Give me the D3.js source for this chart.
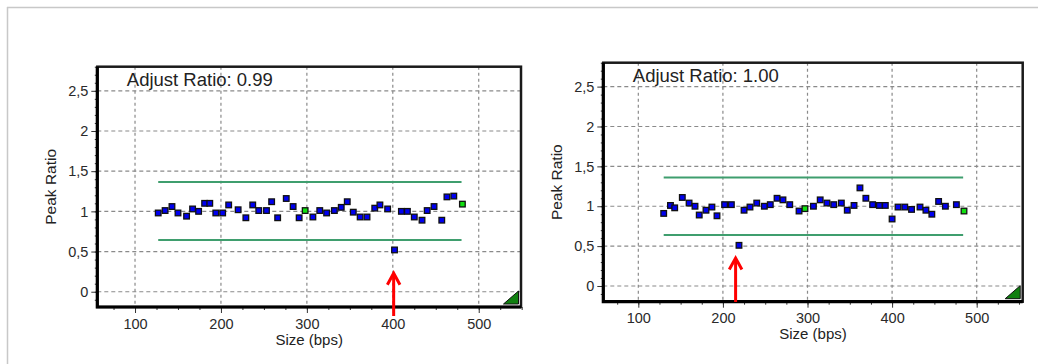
<!DOCTYPE html>
<html><head><meta charset="utf-8">
<script src="https://cdn.jsdelivr.net/npm/d3@7"></script>
<style>
html,body{margin:0;padding:0;background:#fff;}
svg{display:block;font-family:"Liberation Sans",Arial,sans-serif;}
</style></head>
<body>
<svg id="c" width="1038" height="364"></svg>
<script>
// ---------- data ----------
const xTicks = [100, 200, 300, 400, 500];
const yTicks = [0, 0.5, 1, 1.5, 2, 2.5];
const yTickLabels = ["0", "0,5", "1", "1,5", "2", "2,5"];
const xTitle = "Size (bps)";
const yTitle = "Peak Ratio";

// left panel
const titleA = "Adjust Ratio: 0.99";
const sizesA = [127,135,143,150,160,167,174,181,187,194,202,209,220,229,237,244,253,259,266,276,284,291,
                307,315,323,332,340,347,354,362,370,379,385,394,402,410,417,425,434,440,448,457,463,471];
const ratiosA = [0.98,1.01,1.06,0.98,0.94,1.03,1.00,1.10,1.10,0.98,0.98,1.08,1.02,0.92,1.08,1.01,1.01,1.12,0.92,1.16,1.06,0.92,
                 0.93,1.01,0.98,1.01,1.05,1.12,0.99,0.93,0.93,1.04,1.08,1.03,0.52,1.00,1.00,0.93,0.89,1.01,1.06,0.89,1.18,1.19];
const refSizesA = [298, 481];
const refRatiosA = [1.01, 1.09];
const limitSpanA = [127, 480];
const limitsA = [0.645, 1.365];
const arrowSizeA = 401;

// right panel
const titleB = "Adjust Ratio: 1.00";
const sizesB = [130,138,143,152,160,167,172,180,187,193,202,210,219,225,232,240,249,256,264,271,279,290,
                307,315,323,331,340,347,355,362,369,377,385,392,400,407,415,423,433,440,447,455,463,476];
const ratiosB = [0.91,1.01,0.98,1.11,1.04,1.00,0.89,0.95,0.99,0.88,1.02,1.02,0.51,0.95,0.99,1.04,1.00,1.02,1.10,1.08,1.02,0.94,
                 1.00,1.08,1.04,1.02,1.04,0.95,1.01,1.23,1.10,1.02,1.01,1.01,0.84,0.99,0.99,0.96,0.99,0.95,0.90,1.06,1.00,1.02];
const refSizesB = [297, 485];
const refRatiosB = [0.97, 0.94];
const limitSpanB = [130, 484];
const limitsB = [0.64, 1.36];
const arrowSizeB = 215;

// ---------- drawing ----------
const svg = d3.select("#c");

// outer light frame
svg.append("line").attr("x1",7).attr("y1",7.5).attr("x2",1038).attr("y2",7.5).attr("stroke","#c8c8c8").attr("stroke-width",1.5);
svg.append("line").attr("x1",7.5).attr("y1",7).attr("x2",7.5).attr("y2",364).attr("stroke","#c8c8c8").attr("stroke-width",1.5);

function panel(o) {
  const x = d3.scaleLinear().domain(o.xDom).range([o.left, o.right]);
  const y = d3.scaleLinear().domain(o.yDom).range([o.bottom, o.top]);
  const g = svg.append("g");

  // gridlines
  g.append("g").selectAll("line").data(yTicks).join("line")
    .attr("x1", o.left).attr("x2", o.right)
    .attr("y1", d => y(d)).attr("y2", d => y(d))
    .attr("stroke", "#8a8a8a").attr("stroke-width", 1.2).attr("stroke-dasharray", "4,3");
  g.append("g").selectAll("line").data(xTicks).join("line")
    .attr("x1", d => x(d)).attr("x2", d => x(d))
    .attr("y1", o.top).attr("y2", o.bottom)
    .attr("stroke", "#8a8a8a").attr("stroke-width", 1.2).attr("stroke-dasharray", "3,3");

  // limit lines
  g.append("g").selectAll("line").data(o.limits).join("line")
    .attr("x1", x(o.span[0])).attr("x2", x(o.span[1]))
    .attr("y1", d => y(d)).attr("y2", d => y(d))
    .attr("stroke", "#3f9e6e").attr("stroke-width", 2);

  // points
  const s = 5.6;
  g.append("g").selectAll("rect").data(o.sizes.map((v,i)=>[v,o.ratios[i]])).join("rect")
    .attr("x", d => x(d[0]) - s/2).attr("y", d => y(d[1]) - s/2)
    .attr("width", s).attr("height", s)
    .attr("fill", "#0000f0").attr("stroke", "#111").attr("stroke-width", 1.3);
  g.append("g").selectAll("rect").data(o.refSizes.map((v,i)=>[v,o.refRatios[i]])).join("rect")
    .attr("x", d => x(d[0]) - s/2).attr("y", d => y(d[1]) - s/2)
    .attr("width", s).attr("height", s)
    .attr("fill", "#10e010").attr("stroke", "#111").attr("stroke-width", 1.3);

  // axis ticks (minor + major) using d3 axes
  const yMinor = d3.range(-1, 29).map(d => d / 10);
  const yAx = d3.axisLeft(y).tickValues(yMinor).tickSize(2.5).tickFormat("");
  const gy = g.append("g").attr("transform", `translate(${o.left},0)`).call(yAx);
  const yMaj = d3.axisLeft(y).tickValues(yTicks).tickSize(6).tickPadding(3)
    .tickFormat((d,i) => yTickLabels[i]);
  const gy2 = g.append("g").attr("transform", `translate(${o.left},0)`).call(yMaj);
  const xMinor = d3.range(75, 551, 25);
  const xAx = d3.axisBottom(x).tickValues(xMinor).tickSize(3).tickFormat("");
  const gx = g.append("g").attr("transform", `translate(0,${o.bottom})`).call(xAx);
  const xMaj = d3.axisBottom(x).tickValues(xTicks).tickSize(6).tickPadding(o.xPad).tickFormat(d3.format("d"));
  const gx2 = g.append("g").attr("transform", `translate(0,${o.bottom})`).call(xMaj);
  [gy, gy2, gx, gx2].forEach(a => {
    a.select(".domain").remove();
    a.selectAll("line").attr("stroke", "#333").attr("stroke-width", 1);
    a.selectAll("text").attr("fill", "#2a2a2a").attr("font-size", 14.5).attr("font-family", "Liberation Sans, Arial, sans-serif");
  });

  // frame
  g.append("rect").attr("x", o.left).attr("y", o.top)
    .attr("width", o.right - o.left).attr("height", o.bottom - o.top)
    .attr("fill", "none").attr("stroke", "#1a1a1a").attr("stroke-width", 2.5);
  g.append("path").attr("d", `M${o.left},${o.top}V${o.bottom}H${o.right}`)
    .attr("fill", "none").attr("stroke", "#000").attr("stroke-width", 3.2);

  // corner triangle
  const tr = o.right - 2.5, tb = o.bottom - 3;
  g.append("path").attr("d", `M${tr-15},${tb}L${tr},${tb}L${tr},${tb-13}Z`)
    .attr("fill", "#108010").attr("stroke", "#111").attr("stroke-width", 1);

  // titles
  g.append("text").attr("x", o.left + 29.5).attr("y", o.top + 19.5)
    .attr("font-size", 18.5).attr("fill", "#222").text(o.title);
  g.append("text").attr("x", (o.left + o.right)/2).attr("y", o.bottom + o.xTitleDy)
    .attr("text-anchor", "middle").attr("font-size", 15).attr("fill", "#222").text(xTitle);
  g.append("text").attr("transform", `translate(${o.left - 41},${(o.top+o.bottom)/2}) rotate(-90)`)
    .attr("text-anchor", "middle").attr("font-size", 15.5).attr("fill", "#222").text(yTitle);

  // red arrow
  const ax = x(o.arrowSize), at = y(o.arrowTip), ab = o.arrowBottom;
  g.append("line").attr("x1", ax).attr("x2", ax).attr("y1", at + 1).attr("y2", ab)
    .attr("stroke", "#ff0000").attr("stroke-width", 3);
  g.append("path").attr("d", `M${ax-6.3},${at+11.5}L${ax},${at}L${ax+6.3},${at+11.5}`)
    .attr("fill", "none").attr("stroke", "#ff0000").attr("stroke-width", 3).attr("stroke-linejoin", "miter");
}

panel({
  left: 97.3, right: 521, top: 66.7, bottom: 307,
  xDom: [56.1, 549.2], yDom: [-0.19, 2.8],
  sizes: sizesA, ratios: ratiosA, refSizes: refSizesA, refRatios: refRatiosA,
  span: limitSpanA, limits: limitsA, title: titleA,
  arrowSize: arrowSizeA, arrowTip: 0.23, arrowBottom: 316, xTitleDy: 38, xPad: 6.2
});
panel({
  left: 603.3, right: 1022.7, top: 62.7, bottom: 301.7,
  xDom: [58.6, 554.4], yDom: [-0.197, 2.8],
  sizes: sizesB, ratios: ratiosB, refSizes: refSizesB, refRatios: refRatiosB,
  span: limitSpanB, limits: limitsB, title: titleB,
  arrowSize: arrowSizeB, arrowTip: 0.35, arrowBottom: 302, xTitleDy: 36.8, xPad: 5.5
});
</script>
</body></html>
